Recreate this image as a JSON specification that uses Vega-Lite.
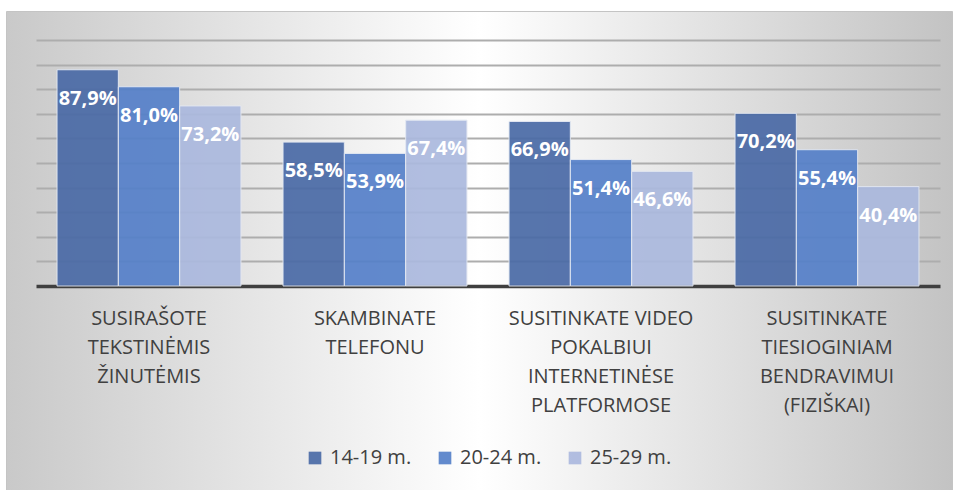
{
  "$schema": "https://vega.github.io/schema/vega-lite/v6.json",
  "width": 946,
  "height": 479,
  "autosize": {"type": "none"},
  "padding": {"left": 6, "top": 11, "right": 6, "bottom": 0},
  "background": "white",
  "config": {
    "font": "Open Sans",
    "locale": {"number": {"decimal": ",", "thousands": " ", "grouping": [3], "currency": ["", " €"]}},
    "view": {
      "stroke": "#c4c4c4",
      "strokeWidth": 1,
      "fill": {
        "gradient": "linear",
        "x1": 0, "y1": 0, "x2": 1, "y2": 0,
        "stops": [
          {"offset": 0, "color": "#c9c9c9"},
          {"offset": 0.5, "color": "#ffffff"},
          {"offset": 1, "color": "#c3c3c3"}
        ]
      }
    }
  },
  "data": {
    "values": [
      {"veikla": "SUSIRAŠOTE\nTEKSTINĖMIS\nŽINUTĖMIS", "amzius": "14-19 m.", "dalis": 0.879},
      {"veikla": "SUSIRAŠOTE\nTEKSTINĖMIS\nŽINUTĖMIS", "amzius": "20-24 m.", "dalis": 0.810},
      {"veikla": "SUSIRAŠOTE\nTEKSTINĖMIS\nŽINUTĖMIS", "amzius": "25-29 m.", "dalis": 0.732},
      {"veikla": "SKAMBINATE\nTELEFONU", "amzius": "14-19 m.", "dalis": 0.585},
      {"veikla": "SKAMBINATE\nTELEFONU", "amzius": "20-24 m.", "dalis": 0.539},
      {"veikla": "SKAMBINATE\nTELEFONU", "amzius": "25-29 m.", "dalis": 0.674},
      {"veikla": "SUSITINKATE VIDEO\nPOKALBIUI\nINTERNETINĖSE\nPLATFORMOSE", "amzius": "14-19 m.", "dalis": 0.669},
      {"veikla": "SUSITINKATE VIDEO\nPOKALBIUI\nINTERNETINĖSE\nPLATFORMOSE", "amzius": "20-24 m.", "dalis": 0.514},
      {"veikla": "SUSITINKATE VIDEO\nPOKALBIUI\nINTERNETINĖSE\nPLATFORMOSE", "amzius": "25-29 m.", "dalis": 0.466},
      {"veikla": "SUSITINKATE\nTIESIOGINIAM\nBENDRAVIMUI\n(FIZIŠKAI)", "amzius": "14-19 m.", "dalis": 0.702},
      {"veikla": "SUSITINKATE\nTIESIOGINIAM\nBENDRAVIMUI\n(FIZIŠKAI)", "amzius": "20-24 m.", "dalis": 0.554},
      {"veikla": "SUSITINKATE\nTIESIOGINIAM\nBENDRAVIMUI\n(FIZIŠKAI)", "amzius": "25-29 m.", "dalis": 0.404}
    ]
  },
  "encoding": {
    "x": {
      "field": "veikla",
      "type": "nominal",
      "sort": null,
      "scale": {"range": [30, 934], "paddingInner": 0.186, "paddingOuter": 0.093},
      "axis": {
        "title": null,
        "orient": "bottom",
        "offset": -204,
        "labelAngle": 0,
        "labelExpr": "split(datum.label, '\\n')",
        "labelFontSize": 20,
        "labelColor": "#404040",
        "labelLineHeight": 29,
        "labelLimit": 0,
        "labelPadding": 22,
        "labelBaseline": "top",
        "ticks": false,
        "domainColor": "#3f3f3f",
        "domainWidth": 3.5
      }
    },
    "xOffset": {
      "field": "amzius",
      "type": "nominal",
      "sort": null,
      "scale": {"paddingInner": 0, "paddingOuter": 0}
    },
    "y": {
      "field": "dalis",
      "type": "quantitative",
      "scale": {"domain": [-0.82927, 1.11788], "nice": false, "zero": false},
      "axis": {
        "title": null,
        "labels": false,
        "ticks": false,
        "domain": false,
        "grid": true,
        "gridColor": "#adadad",
        "gridWidth": 2,
        "values": [0.1, 0.2, 0.3, 0.4, 0.5, 0.6, 0.7, 0.8, 0.9, 1.0]
      }
    }
  },
  "layer": [
    {
      "mark": {"type": "bar", "opacity": 0.92, "stroke": "#e3e8f2", "strokeWidth": 1},
      "encoding": {
        "y2": {"datum": 0},
        "color": {
          "field": "amzius",
          "type": "nominal",
          "sort": null,
          "scale": {"domain": ["14-19 m.", "20-24 m.", "25-29 m."], "range": ["#4a6aa6", "#5580c9", "#abb9de"]},
          "legend": {
            "orient": "none",
            "legendX": 299,
            "legendY": 437,
            "direction": "horizontal",
            "title": null,
            "symbolType": "square",
            "symbolSize": 160,
            "symbolStrokeWidth": 0,
            "labelFontSize": 20,
            "labelColor": "#404040",
            "labelOffset": 5,
            "columnPadding": 23
          }
        }
      }
    },
    {
      "mark": {"type": "text", "dy": 29, "baseline": "middle", "align": "center", "fill": "white", "fontWeight": "bold", "fontSize": 20},
      "encoding": {
        "text": {"field": "dalis", "type": "quantitative", "format": ".1%"}
      }
    }
  ]
}
